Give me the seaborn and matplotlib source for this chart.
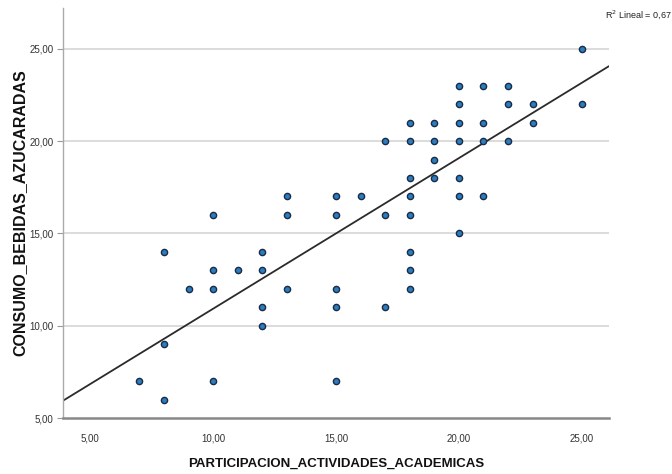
import numpy as np
import pandas as pd
import matplotlib
matplotlib.use("Agg")
import matplotlib.pyplot as plt
import seaborn as sns
from matplotlib.ticker import FuncFormatter
from matplotlib import font_manager

# puntos (participacion vs consumo)
participacion = [7,
                 8, 8, 8,
                 9,
                 10, 10, 10, 10,
                 11,
                 12, 12, 12, 12,
                 13, 13, 13,
                 15, 15, 15, 15, 15,
                 16,
                 17, 17, 17,
                 18, 18, 18, 18, 18, 18, 18, 18,
                 19, 19, 19, 19,
                 20, 20, 20, 20, 20, 20, 20,
                 21, 21, 21, 21,
                 22, 22, 22,
                 23, 23,
                 25, 25]
consumo = [7,
           14, 9, 6,
           12,
           16, 13, 12, 7,
           13,
           14, 13, 11, 10,
           17, 16, 12,
           17, 16, 12, 11, 7,
           17,
           20, 16, 11,
           21, 20, 18, 17, 16, 14, 13, 12,
           21, 20, 19, 18,
           23, 22, 21, 20, 18, 17, 15,
           23, 21, 20, 17,
           23, 22, 20,
           22, 21,
           25, 22]

df = pd.DataFrame({"PARTICIPACION_ACTIVIDADES_ACADEMICAS": participacion,
                   "CONSUMO_BEBIDAS_AZUCARADAS": consumo})

sns.set_theme(style="white")
names = {f.name for f in font_manager.fontManager.ttflist}
narrow = "Liberation Sans Narrow" if "Liberation Sans Narrow" in names else "Liberation Sans"
plt.rcParams["font.family"] = ["Liberation Sans", "DejaVu Sans"]

fig = plt.figure(figsize=(6.72, 4.74), dpi=100)
ax = fig.add_axes([0.094, 0.118, 0.812, 0.865])
ax.set_xlim(3.9, 26.1)
ax.set_ylim(5, 27.2)

for v in [10, 15, 20, 25]:
    ax.axhline(v, color="#d2d2d2", lw=1.1, zorder=0)

sns.regplot(data=df, x="PARTICIPACION_ACTIVIDADES_ACADEMICAS",
            y="CONSUMO_BEBIDAS_AZUCARADAS", ax=ax, ci=None, truncate=False,
            scatter_kws=dict(s=20, color="#2a7dc0", edgecolor="#1b2b45",
                             linewidths=1.0, alpha=1, zorder=3),
            line_kws=dict(color="#2b2b2b", lw=1.3, zorder=2))
ax.set_xlim(3.9, 26.1)
ax.set_ylim(5, 27.2)

ax.set_xticks([5, 10, 15, 20, 25])
ax.set_yticks([5, 10, 15, 20, 25])
fmt = FuncFormatter(lambda v, p: f"{v:.2f}".replace(".", ","))
ax.xaxis.set_major_formatter(fmt)
ax.yaxis.set_major_formatter(fmt)
for lab in ax.get_xticklabels() + ax.get_yticklabels():
    lab.set_family([narrow, "DejaVu Sans"])
    lab.set_fontsize(7)
    lab.set_color("#333333")
ax.tick_params(axis="x", length=0, pad=11)
ax.tick_params(axis="y", length=4, width=0.8, color="#999999", pad=3, left=True)

sns.despine(ax=ax)
ax.spines["left"].set_color("#aaaaaa")
ax.spines["left"].set_linewidth(1.0)
ax.spines["bottom"].set_color("#888888")
ax.spines["bottom"].set_linewidth(1.8)

ax.set_xlabel("PARTICIPACION_ACTIVIDADES_ACADEMICAS", fontsize=9.5,
              fontweight="bold", family=[narrow, "DejaVu Sans"], color="#111111")
ax.set_ylabel("CONSUMO_BEBIDAS_AZUCARADAS", fontsize=11.5, fontweight="bold",
              color="#111111")
ax.xaxis.set_label_coords(0.5, -0.098)
ax.yaxis.set_label_coords(-0.066, 0.5)

fig.text(0.999, 0.962, "R$^2$ Lineal = 0,67", fontsize=6.5, ha="right",
         family=[narrow, "DejaVu Sans"], color="#222222")

fig.savefig("out.png", dpi=100)
